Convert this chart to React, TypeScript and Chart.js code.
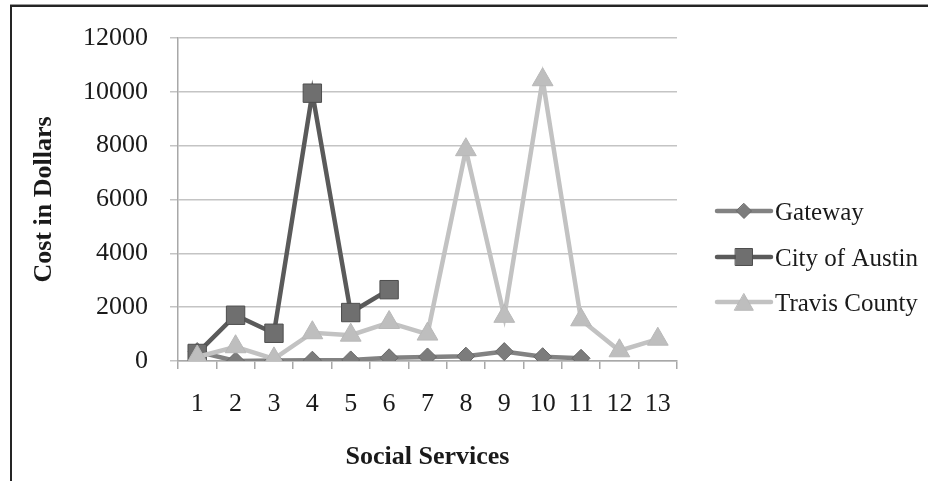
import React, { useEffect, useRef } from "react";
import { Chart, registerables } from "chart.js";

Chart.register(...registerables);

// ---- data ----
const categories = ["1", "2", "3", "4", "5", "6", "7", "8", "9", "10", "11", "12", "13"];
const seriesNames = ["Gateway", "City of Austin", "Travis County"];
const gateway = [350, 0, 20, 30, 40, 120, 150, 180, 350, 160, 100, null, null];
const cityOfAustin = [280, 1700, 1030, 9950, 1800, 2650, null, null, null, null, null, null, null];
const travisCounty = [150, 530, 80, 1050, 960, 1430, 1000, 7850, 1660, 10450, 1530, 380, 810];
const yMin = 0;
const yMax = 12000;
const yStep = 2000;
const xTitle = "Social Services";
const yTitle = "Cost in Dollars";

const FONT = "'Liberation Serif', 'Times New Roman', serif";

type Style = { line: string; fill: string; border: string; shape: string; radius: number; legendRadius: number };
const styles: Style[] = [
  { line: "#828282", fill: "#7c7c7c", border: "#686868", shape: "rectRot", radius: 9, legendRadius: 7.5 },
  { line: "#5a5a5a", fill: "#6f6f6f", border: "#4e4e4e", shape: "rect", radius: 13, legendRadius: 12 },
  { line: "#c2c2c2", fill: "#bebebe", border: "#b8b8b8", shape: "triangle", radius: 12, legendRadius: 11 },
];

function drawMarker(ctx: CanvasRenderingContext2D, shape: string, x: number, y: number, r: number) {
  ctx.beginPath();
  if (shape === "rect") {
    const s = Math.SQRT1_2 * r;
    ctx.rect(x - s, y - s, 2 * s, 2 * s);
  } else if (shape === "rectRot") {
    ctx.moveTo(x, y - r);
    ctx.lineTo(x + r, y);
    ctx.lineTo(x, y + r);
    ctx.lineTo(x - r, y);
    ctx.closePath();
  } else {
    const h = r * 0.75;
    ctx.moveTo(x, y - h);
    ctx.lineTo(x + r * 0.85, y + h);
    ctx.lineTo(x - r * 0.85, y + h);
    ctx.closePath();
  }
  ctx.fill();
  ctx.stroke();
}

const sideLegend = {
  id: "sideLegend",
  afterDraw(chart: any) {
    const ctx: CanvasRenderingContext2D = chart.ctx;
    const right = chart.chartArea.right;
    const x0 = right + 40;
    const x1 = right + 94;
    const xm = (x0 + x1) / 2;
    const tx = x1 + 4;
    const ys = [211, 257, 302];
    seriesNames.forEach((name, i) => {
      const st = styles[i];
      const y = ys[i];
      ctx.save();
      ctx.strokeStyle = st.line;
      ctx.lineWidth = 4.5;
      ctx.lineCap = "round";
      ctx.beginPath();
      ctx.moveTo(x0, y);
      ctx.lineTo(x1, y);
      ctx.stroke();
      ctx.fillStyle = st.fill;
      ctx.strokeStyle = st.border;
      ctx.lineWidth = 1;
      drawMarker(ctx, st.shape, xm, y, st.legendRadius);
      ctx.fillStyle = "#1a1a1a";
      ctx.font = `25px ${FONT}`;
      ctx.textBaseline = "middle";
      ctx.textAlign = "left";
      ctx.fillText(name, tx, y + 2);
      ctx.restore();
    });
  },
};

export default function App() {
  const ref = useRef<HTMLCanvasElement | null>(null);

  useEffect(() => {
    if (!ref.current) return;
    const values = [gateway, cityOfAustin, travisCounty];
    const orders = [3, 2, 1];
    const chart = new Chart(ref.current, {
      type: "line",
      data: {
        labels: categories,
        datasets: seriesNames.map((name, i) => ({
          label: name,
          data: values[i],
          borderColor: styles[i].line,
          backgroundColor: styles[i].fill,
          pointBackgroundColor: styles[i].fill,
          pointBorderColor: styles[i].border,
          pointBorderWidth: 1,
          pointStyle: styles[i].shape as any,
          pointRadius: styles[i].radius,
          pointHoverRadius: styles[i].radius,
          borderWidth: 4.5,
          tension: 0,
          spanGaps: false,
          order: orders[i],
        })),
      },
      options: {
        responsive: false,
        devicePixelRatio: 1,
        animation: false,
        events: [],
        layout: { padding: { left: 14, top: 38, right: 251, bottom: 0 } },
        plugins: {
          legend: { display: false },
          tooltip: { enabled: false },
        },
        scales: {
          x: {
            type: "category",
            offset: true,
            afterFit: (scale: any) => {
              scale.height = 120;
            },
            grid: {
              offset: true,
              drawOnChartArea: false,
              drawTicks: true,
              tickLength: 8,
              color: "#a8a8a8",
              lineWidth: 1.5,
            },
            border: { display: true, color: "#a8a8a8", width: 1.5 },
            ticks: {
              color: "#1a1a1a",
              font: { family: FONT, size: 26 },
              padding: 20,
              maxRotation: 0,
              autoSkip: false,
            },
            title: {
              display: true,
              text: xTitle,
              color: "#1a1a1a",
              font: { family: FONT, size: 26, weight: "bold" },
              padding: { top: 0, bottom: 8 },
            },
          },
          y: {
            min: yMin,
            max: yMax,
            afterFit: (scale: any) => {
              scale.width = 164;
            },
            grid: {
              color: "#c4c4c4",
              lineWidth: 1.5,
              tickLength: 8,
              drawTicks: true,
            },
            border: { display: true, color: "#a8a8a8", width: 1.5 },
            ticks: {
              stepSize: yStep,
              color: "#1a1a1a",
              font: { family: FONT, size: 26 },
              padding: 22,
              callback: (v: any) => String(v),
            },
            title: {
              display: true,
              text: yTitle,
              color: "#1a1a1a",
              font: { family: FONT, size: 26, weight: "bold" },
              padding: { top: 15, bottom: 0 },
            },
          },
        },
      },
      plugins: [sideLegend],
    });
    return () => chart.destroy();
  }, []);

  return (
    <div
      style={{
        position: "absolute",
        left: 0,
        top: 0,
        width: 928,
        height: 481,
        background: "#ffffff",
        overflow: "hidden",
      }}
    >
      <canvas ref={ref} width={928} height={481} style={{ display: "block", width: 928, height: 481 }} />
      <div style={{ position: "absolute", left: 10, top: 4, width: 918, height: 1, background: "#9a9a9a" }} />
      <div style={{ position: "absolute", left: 10, top: 5, width: 918, height: 2, background: "#252525" }} />
      <div style={{ position: "absolute", left: 10, top: 5, width: 2, height: 476, background: "#252525" }} />
    </div>
  );
}
